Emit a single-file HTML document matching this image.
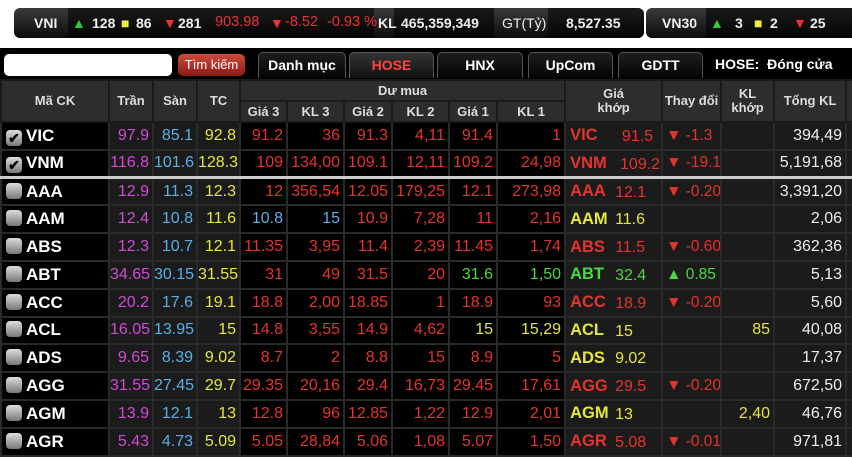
<!DOCTYPE html>
<html><head><meta charset="utf-8"><style>
*{margin:0;padding:0;box-sizing:border-box}
body{width:852px;height:457px;overflow:hidden;background:#fff;font-family:"Liberation Sans",sans-serif;position:relative}
.bar{position:absolute;top:8px;height:30px;background:linear-gradient(#3a3a3a,#0c0c0c);border-radius:6px;color:#eee;font-weight:bold;font-size:14px}
.bar span{position:absolute;top:7px;white-space:nowrap}
.seg{position:absolute;top:0;height:30px;background:linear-gradient(#1a1a1a,#050505)}
.black{position:absolute;top:48px;left:0;width:852px;height:409px;background:#000}
.tab{position:absolute;top:52px;height:26px;background:linear-gradient(#1e1e1e,#050505);border:1px solid #555;border-bottom:none;border-radius:5px 5px 0 0;color:#fff;font-weight:bold;font-size:14px;text-align:center;line-height:25px}
table{position:absolute;left:0;top:79px;border-collapse:collapse;table-layout:fixed;width:852px}
td,th{border:2px solid #2a2a2a;overflow:hidden;white-space:nowrap}
th{background:#2d2d2d;color:#ddd;font-size:13px;font-weight:bold;height:21px;line-height:14px;border-color:#1a1a1a}
td{height:27.8px;font-size:16px;text-align:right;padding-right:3px;background:#000}
td.g{background:#1b1b1b}
td.s{text-align:left;padding-left:4px;color:#fff;font-weight:bold;font-size:17px}
.cb{display:inline-block;width:16px;height:16px;border-radius:4px;background:linear-gradient(#ddd,#777);vertical-align:-2px;margin-right:4px;color:#000;font-size:14px;line-height:16px;text-align:center}
.m{color:#d24ad6}.b{color:#5ab0e6}.y{color:#e6e640}.r{color:#e3352c}.gr{color:#4fd640}.w{color:#eee}
td.k{text-align:left;padding-left:4px;font-size:16px;padding-right:0;position:relative}
td.k b{display:inline-block;width:44px;font-size:16.5px}
td.k i{font-style:normal;position:absolute;right:4px;top:5px}
td.k i.l{right:auto;left:49px}
td.c{text-align:left;padding-left:3px;font-size:15.5px;padding-right:0}
tr.sep td{border-bottom:3px solid #ccc}
.rt{color:#e33;font-weight:normal;font-size:14.5px;top:6px!important}
</style></head><body>
<div class="bar" style="left:14px;width:630px">
<div class="seg" style="left:54px;width:306px"></div>
<div class="seg" style="left:380px;width:100px"></div>
<div class="seg" style="left:534px;width:96px;border-radius:0 6px 6px 0"></div>
<span style="left:20px">VNI</span>
<span style="left:58px;color:#3c3">▲</span><span style="left:78px">128</span>
<span style="left:107px;color:#ee4">■</span><span style="left:122px">86</span>
<span style="left:149px;color:#e33">▼</span><span style="left:164px">281</span>
<span class="rt" style="left:201px">903.98</span>
<span style="left:256px;color:#e33">▼</span>
<span class="rt" style="left:271px">-8.52</span>
<span class="rt" style="left:313px">-0.93 %</span>
<span style="left:364px">KL</span>
<span style="left:387px">465,359,349</span>
<span style="left:488px;font-weight:normal">GT(Tỷ)</span>
<span style="left:552px">8,527.35</span>
</div>
<div class="bar" style="left:646px;width:206px;border-radius:6px 0 0 6px">
<div class="seg" style="left:60px;width:146px"></div>
<span style="left:16px">VN30</span>
<span style="left:64px;color:#3c3">▲</span><span style="left:89px">3</span>
<span style="left:108px;color:#ee4">■</span><span style="left:124px">2</span>
<span style="left:147px;color:#e33">▼</span><span style="left:164px">25</span>
</div>
<div class="black"></div>
<div style="position:absolute;left:4px;top:54px;width:168px;height:22px;background:#fff;border-radius:5px"></div>
<div style="position:absolute;left:178px;top:54px;width:67px;height:22px;background:linear-gradient(#d04a40,#8a1a14);border-radius:5px;color:#fff;font-size:13px;text-align:center;line-height:22px">Tìm kiếm</div>
<div class="tab" style="left:258px;width:88px">Danh mục</div>
<div class="tab" style="left:349px;width:85px;color:#f44;background:linear-gradient(#333,#111)">HOSE</div>
<div class="tab" style="left:437px;width:86px">HNX</div>
<div class="tab" style="left:528px;width:85px">UpCom</div>
<div class="tab" style="left:618px;width:85px">GDTT</div>
<div style="position:absolute;left:715px;top:56px;color:#fff;font-weight:bold;font-size:14px">HOSE: &nbsp;Đóng cửa</div>
<table>
<colgroup><col style="width:108px"><col style="width:44px"><col style="width:44px"><col style="width:43px"><col style="width:47px"><col style="width:57px"><col style="width:48px"><col style="width:57px"><col style="width:48px"><col style="width:68px"><col style="width:97px"><col style="width:59px"><col style="width:53px"><col style="width:72px"><col style="width:7px"></colgroup>
<tr><th rowspan="2">Mã CK</th><th rowspan="2">Trần</th><th rowspan="2">Sàn</th><th rowspan="2">TC</th><th colspan="6">Dư mua</th><th rowspan="2">Giá<br>khớp</th><th rowspan="2">Thay đổi</th><th rowspan="2">KL<br>khớp</th><th rowspan="2">Tổng KL</th><th rowspan="2"></th></tr>
<tr><th>Giá 3</th><th>KL 3</th><th>Giá 2</th><th>KL 2</th><th>Giá 1</th><th>KL 1</th></tr>
<tr><td class="s"><span class="cb">✔</span>VIC</td><td class="g m">97.9</td><td class="g b">85.1</td><td class="g y">92.8</td><td class="r">91.2</td><td class="r">36</td><td class="r">91.3</td><td class="r">4,11</td><td class="r">91.4</td><td class="r">1</td><td class="g k r"><b>VIC</b><i style="right:8px">91.5</i></td><td class="g c r">▼ -1.3</td><td class="g"></td><td class="g w">394,49</td><td class="g"></td></tr>
<tr class="sep"><td class="s"><span class="cb">✔</span>VNM</td><td class="g m">116.8</td><td class="g b">101.6</td><td class="g y">128.3</td><td class="r">109</td><td class="r">134,00</td><td class="r">109.1</td><td class="r">12,11</td><td class="r">109.2</td><td class="r">24,98</td><td class="g k r"><b>VNM</b><i style="right:1px">109.2</i></td><td class="g c r">▼ -19.1</td><td class="g"></td><td class="g w">5,191,68</td><td class="g"></td></tr>
<tr><td class="s"><span class="cb"></span>AAA</td><td class="g m">12.9</td><td class="g b">11.3</td><td class="g y">12.3</td><td class="r">12</td><td class="r">356,54</td><td class="r">12.05</td><td class="r">179,25</td><td class="r">12.1</td><td class="r">273,98</td><td class="g k r"><b>AAA</b><i class="l">12.1</i></td><td class="g c r">▼ -0.20</td><td class="g"></td><td class="g w">3,391,20</td><td class="g"></td></tr>
<tr><td class="s"><span class="cb"></span>AAM</td><td class="g m">12.4</td><td class="g b">10.8</td><td class="g y">11.6</td><td class="b">10.8</td><td class="b">15</td><td class="r">10.9</td><td class="r">7,28</td><td class="r">11</td><td class="r">2,16</td><td class="g k y"><b>AAM</b><i class="l">11.6</i></td><td class="g"></td><td class="g"></td><td class="g w">2,06</td><td class="g"></td></tr>
<tr><td class="s"><span class="cb"></span>ABS</td><td class="g m">12.3</td><td class="g b">10.7</td><td class="g y">12.1</td><td class="r">11.35</td><td class="r">3,95</td><td class="r">11.4</td><td class="r">2,39</td><td class="r">11.45</td><td class="r">1,74</td><td class="g k r"><b>ABS</b><i class="l">11.5</i></td><td class="g c r">▼ -0.60</td><td class="g"></td><td class="g w">362,36</td><td class="g"></td></tr>
<tr><td class="s"><span class="cb"></span>ABT</td><td class="g m">34.65</td><td class="g b">30.15</td><td class="g y">31.55</td><td class="r">31</td><td class="r">49</td><td class="r">31.5</td><td class="r">20</td><td class="gr">31.6</td><td class="gr">1,50</td><td class="g k gr"><b>ABT</b><i class="l">32.4</i></td><td class="g c gr">▲ 0.85</td><td class="g"></td><td class="g w">5,13</td><td class="g"></td></tr>
<tr><td class="s"><span class="cb"></span>ACC</td><td class="g m">20.2</td><td class="g b">17.6</td><td class="g y">19.1</td><td class="r">18.8</td><td class="r">2,00</td><td class="r">18.85</td><td class="r">1</td><td class="r">18.9</td><td class="r">93</td><td class="g k r"><b>ACC</b><i class="l">18.9</i></td><td class="g c r">▼ -0.20</td><td class="g"></td><td class="g w">5,60</td><td class="g"></td></tr>
<tr><td class="s"><span class="cb"></span>ACL</td><td class="g m">16.05</td><td class="g b">13.95</td><td class="g y">15</td><td class="r">14.8</td><td class="r">3,55</td><td class="r">14.9</td><td class="r">4,62</td><td class="y">15</td><td class="y">15,29</td><td class="g k y"><b>ACL</b><i class="l">15</i></td><td class="g"></td><td class="g y">85</td><td class="g w">40,08</td><td class="g"></td></tr>
<tr><td class="s"><span class="cb"></span>ADS</td><td class="g m">9.65</td><td class="g b">8.39</td><td class="g y">9.02</td><td class="r">8.7</td><td class="r">2</td><td class="r">8.8</td><td class="r">15</td><td class="r">8.9</td><td class="r">5</td><td class="g k y"><b>ADS</b><i class="l">9.02</i></td><td class="g"></td><td class="g"></td><td class="g w">17,37</td><td class="g"></td></tr>
<tr><td class="s"><span class="cb"></span>AGG</td><td class="g m">31.55</td><td class="g b">27.45</td><td class="g y">29.7</td><td class="r">29.35</td><td class="r">20,16</td><td class="r">29.4</td><td class="r">16,73</td><td class="r">29.45</td><td class="r">17,61</td><td class="g k r"><b>AGG</b><i class="l">29.5</i></td><td class="g c r">▼ -0.20</td><td class="g"></td><td class="g w">672,50</td><td class="g"></td></tr>
<tr><td class="s"><span class="cb"></span>AGM</td><td class="g m">13.9</td><td class="g b">12.1</td><td class="g y">13</td><td class="r">12.8</td><td class="r">96</td><td class="r">12.85</td><td class="r">1,22</td><td class="r">12.9</td><td class="r">2,01</td><td class="g k y"><b>AGM</b><i class="l">13</i></td><td class="g"></td><td class="g y">2,40</td><td class="g w">46,76</td><td class="g"></td></tr>
<tr><td class="s"><span class="cb"></span>AGR</td><td class="g m">5.43</td><td class="g b">4.73</td><td class="g y">5.09</td><td class="r">5.05</td><td class="r">28,84</td><td class="r">5.06</td><td class="r">1,08</td><td class="r">5.07</td><td class="r">1,50</td><td class="g k r"><b>AGR</b><i class="l">5.08</i></td><td class="g c r">▼ -0.01</td><td class="g"></td><td class="g w">971,81</td><td class="g"></td></tr>
</table>
</body></html>
